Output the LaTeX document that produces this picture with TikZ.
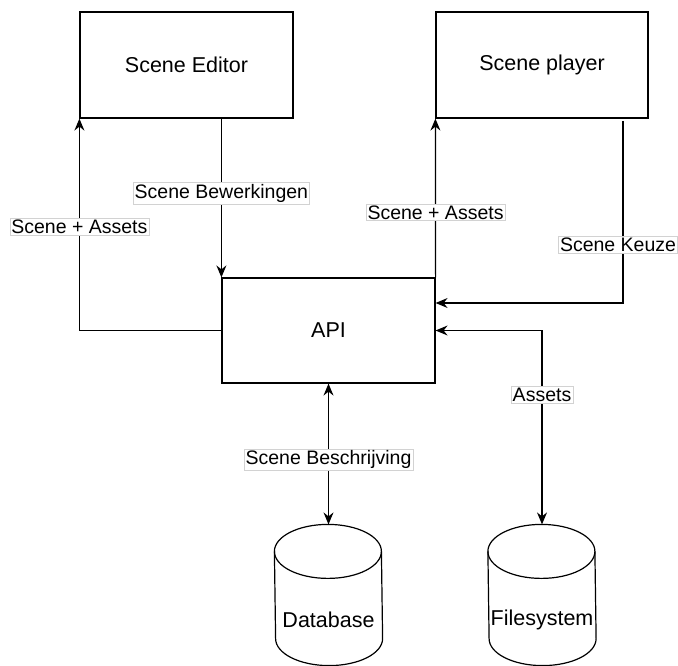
\documentclass[tikz,border=0pt]{standalone}
\usepackage{fontspec}
\setmainfont{Liberation Sans}
\usetikzlibrary{arrows.meta}
\usetikzlibrary{positioning}

\begin{document}
\begin{tikzpicture}
[x=1pt,y=-1pt,line width=1.2pt,
  onearrow/.style = {-{Stealth[length=12pt,width=10pt,inset=4pt]}},
  twoarrow/.style = {{Stealth[length=12pt,width=10pt,inset=4pt]}-{Stealth[length=12pt,width=10pt,inset=4pt]}},
  box/.style = {rectangle,draw,minimum width=213pt,minimum height=106pt,
        font=\fontsize{21.5}{25}\selectfont},
  dbbox/.style = {rectangle,inner sep=0pt,minimum width=107pt,minimum height=140pt},
  lbl/.style = {fill=white,draw=gray!35,line width=0.5pt,inner sep=1.5pt,
        font=\fontsize{19.5}{22}\selectfont}]
%
\useasboundingbox (0,0) rectangle (678,666);
%
\node[box] (SE) at (186.5,65) {Scene Editor};
\node[box,minimum width=212pt] (SP) at (542,65) {Scene player};
\node[box,minimum height=105pt] (API) at (328.5,330.5) {API};
\node[dbbox] (DB) at (328.5,595) {};
\node[dbbox] (FS) at (542,595) {};
\node at ([yshift=-25pt]DB.center) {\fontsize{21.5}{25}\selectfont Database};
\node at ([yshift=-25pt]FS.center) {\fontsize{21.5}{25}\selectfont Filesystem};
%
% cylinders
\foreach \c in {DB,FS}{
  \draw ([yshift=-27pt]\c.north west) arc[start angle=180,end angle=0,x radius=53.5pt,y radius=27pt]
    -- ([yshift=27pt]\c.south east) arc[start angle=0,end angle=-180,x radius=53.5pt,y radius=27pt] -- cycle;
  \draw ([yshift=-27pt]\c.north west) arc[start angle=180,end angle=360,x radius=53.5pt,y radius=27pt];
}
%
\coordinate (keuze) at (623,121);
\coordinate (apiin) at ([yshift=27.5pt]API.east);
%
\draw[onearrow] (SE.south -| API.north west) -- node[lbl,pos=0.47] {Scene Bewerkingen} (API.north west);
\draw[onearrow] (API.west) -| node[lbl,pos=0.745] {Scene + Assets} (SE.south west);
\draw[onearrow] (API.north east) -- node[lbl,pos=0.41] {Scene + Assets} (SP.south west);
\draw[onearrow] (keuze) |- node[lbl,pos=0.34,xshift=-5pt] {Scene Keuze} (apiin);
\draw[twoarrow] (API.east) -| node[lbl,pos=0.665] {Assets} (FS.north);
\draw[twoarrow] (API.south) -- node[lbl,pos=0.54] {Scene Beschrijving} (DB.north);
\end{tikzpicture}
\end{document}
